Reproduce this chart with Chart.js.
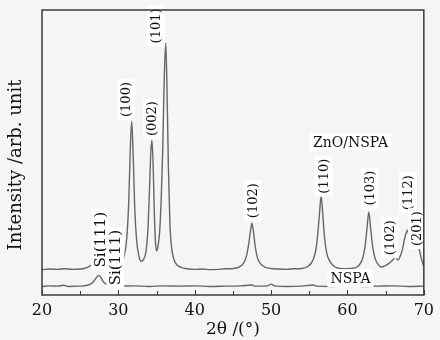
<!DOCTYPE html>
<html>
<head>
<meta charset="utf-8">
<script src="https://cdn.jsdelivr.net/npm/chart.js@4.4.0/dist/chart.umd.min.js"></script>
<style>
  html, body { margin: 0; padding: 0; background: #f5f5f5; }
  #wrap { width: 440px; height: 340px; }
</style>
</head>
<body>
<div id="wrap"><canvas id="xrd"></canvas></div>
<script>
// 2theta tick positions (labels only on the tens)
const xTicks = [20, 25, 30, 35, 40, 45, 50, 55, 60, 65, 70];

// ZnO/NSPA pattern
const znoAngle = [20, 21, 22, 23, 24, 25, 25.8, 26.3, 26.8, 27.3, 27.8, 28.3, 29, 29.6, 30.0, 30.4, 30.8, 31.1, 31.35, 31.55, 31.75, 31.95, 32.15, 32.4, 32.7, 33.0, 33.3, 33.6, 33.85, 34.05, 34.25, 34.4, 34.55, 34.7, 34.85, 35.0, 35.15, 35.4, 35.6, 35.8, 36.0, 36.2, 36.35, 36.55, 36.75, 37.0, 37.3, 37.7, 38.3, 39, 40, 41, 42, 43, 44, 45, 45.8, 46.4, 46.8, 47.1, 47.3, 47.5, 47.7, 47.9, 48.2, 48.6, 49.2, 50, 51, 52, 53, 54, 54.8, 55.4, 55.8, 56.1, 56.35, 56.55, 56.75, 57.0, 57.3, 57.7, 58.3, 59, 60, 61, 61.6, 62.0, 62.3, 62.55, 62.8, 63.05, 63.3, 63.6, 64.0, 64.4, 64.9, 65.4, 65.9, 66.3, 66.6, 66.9, 67.2, 67.5, 67.85, 68.15, 68.5, 68.8, 69.15, 69.4, 69.7, 70];
const znoCounts = [8.9, 9.1, 9.0, 9.2, 9.0, 9.1, 9.5, 10.2, 10.9, 10.3, 9.6, 9.3, 9.5, 9.9, 10.4, 11.5, 14, 20, 32, 50, 61.0, 48, 30, 19, 13.5, 11.8, 12.5, 15, 22, 35, 50, 54.3, 46, 30, 19, 15.5, 16.5, 22, 33, 50, 75, 88.4, 75, 45, 25, 16, 12.3, 10.5, 9.6, 9.2, 9.0, 9.1, 8.9, 9.0, 9.2, 9.3, 9.8, 11.2, 14, 18.5, 22.5, 25.2, 22, 17.5, 13.2, 11, 9.8, 9.3, 9.1, 9.0, 9.2, 9.3, 10, 11.8, 15, 21, 29, 34.7, 29, 20, 14.5, 11.8, 10, 9.3, 9.2, 9.5, 10.7, 13, 17, 23, 29.1, 23, 17, 13, 10.8, 9.8, 10.2, 11, 12.2, 13.2, 12.3, 13.5, 16, 20, 22.7, 19.5, 16.8, 17.5, 18.2, 16, 12.5, 10];

// bare NSPA substrate
const nspaAngle = [20, 21, 22, 22.8, 23.5, 24.5, 25.5, 26.2, 26.7, 27.1, 27.4, 27.7, 28.0, 28.4, 29, 30, 32, 34, 36, 38, 40, 42, 44, 46, 47.4, 48, 49.5, 50, 50.5, 52, 54, 55.5, 56, 58, 60, 62, 64, 66, 68, 70];
const nspaCounts = [3.0, 3.2, 3.1, 3.4, 3.0, 3.1, 3.2, 3.6, 4.6, 6.0, 6.9, 6.2, 4.8, 3.8, 3.3, 3.1, 3.2, 3.0, 3.2, 3.1, 3.2, 3.0, 3.1, 3.2, 3.5, 3.1, 3.2, 3.8, 3.2, 3.0, 3.1, 3.5, 3.1, 3.0, 3.2, 3.0, 3.1, 3.2, 3.0, 3.1];

// peak / curve labels: text, centre (2theta, intensity), vertical or not
const noteText = ['(100)', '(002)', '(101)', 'Si(111)', 'Si(111)', '(102)', '(110)', '(103)', '(102)', '(112)', '(201)', 'ZnO/NSPA', 'NSPA'];
const noteX = [31.0, 34.4, 34.9, 27.6, 29.6, 47.6, 56.9, 62.9, 65.5, 67.9, 69.1, 60.4, 60.4];
const noteY = [68.6, 61.9, 94.4, 19.4, 13.1, 33.1, 41.7, 37.5, 20.1, 35.9, 23.3, 53.7, 5.9];
const noteVertical = [true, true, true, true, true, true, true, true, true, true, true, false, false];

const serif = '"DejaVu Serif", "Liberation Serif", serif';

function pairs(xs, ys) {
    return xs.map((x, i) => ({ x: x, y: ys[i] }));
}

const framePlugin = {
    id: 'frame',
    afterDatasetsDraw(chart) {
        const { ctx, chartArea: a, scales } = chart;
        ctx.save();
        // inward ticks on the bottom axis
        ctx.strokeStyle = '#333';
        ctx.lineWidth = 1;
        xTicks.forEach(v => {
            const px = Math.round(scales.x.getPixelForValue(v)) + 0.5;
            const len = v % 10 === 0 ? 5 : 4;
            ctx.beginPath();
            ctx.moveTo(px, a.bottom);
            ctx.lineTo(px, a.bottom - len);
            ctx.stroke();
        });
        // labels with their white patches
        noteText.forEach((t, i) => {
            const px = scales.x.getPixelForValue(noteX[i]);
            const py = scales.y.getPixelForValue(noteY[i]);
            const vertical = noteVertical[i];
            let size = 13;
            if (!vertical) size = 14;
            if (t.startsWith('Si')) size = 15;
            ctx.font = size + 'px ' + serif;
            const w = ctx.measureText(t).width;
            ctx.save();
            ctx.translate(px, py);
            if (vertical) ctx.rotate(-Math.PI / 2);
            ctx.fillStyle = '#ffffff';
            ctx.fillRect(-w / 2 - 3, -9, w + 6, 18);
            ctx.fillStyle = '#111';
            ctx.textAlign = 'center';
            ctx.textBaseline = 'middle';
            ctx.fillText(t, 0, 1);
            ctx.restore();
        });
        // box around the plot
        ctx.strokeStyle = '#3a3a3a';
        ctx.lineWidth = 1.5;
        ctx.strokeRect(a.left, a.top, a.right - a.left, a.bottom - a.top);
        // y title, sits a bit lower than the axis centre in the original
        ctx.save();
        ctx.translate(16, 165);
        ctx.rotate(-Math.PI / 2);
        ctx.font = '18px ' + serif;
        ctx.fillStyle = '#111';
        ctx.textAlign = 'center';
        ctx.textBaseline = 'middle';
        ctx.fillText('Intensity /arb. unit', 0, 0);
        ctx.restore();
        ctx.restore();
    }
};

const ctx = document.getElementById('xrd');

new Chart(ctx, {
    type: 'scatter',
    data: {
        datasets: [{
            label: 'ZnO/NSPA',
            data: pairs(znoAngle, znoCounts),
            showLine: true,
            borderColor: '#666666',
            borderWidth: 1.4,
            pointRadius: 0,
            cubicInterpolationMode: 'monotone'
        },
        {
            label: 'NSPA',
            data: pairs(nspaAngle, nspaCounts),
            showLine: true,
            borderColor: '#666666',
            borderWidth: 1.4,
            pointRadius: 0,
            cubicInterpolationMode: 'monotone'
        }]
    },
    options: {
        responsive: true,
        maintainAspectRatio: false,
        animation: false,
        layout: {
            padding: { top: 10, right: 16, left: 0, bottom: 0 }
        },
        plugins: {
            legend: false,
            tooltip: { enabled: false }
        },
        scales: {
            x: {
                type: 'linear',
                min: 20,
                max: 70,
                afterBuildTicks(scale) {
                    scale.ticks = xTicks.map(v => ({ value: v }));
                },
                afterFit(scale) {
                    scale.height = 45;
                },
                grid: { display: false, drawTicks: false },
                border: { display: false },
                ticks: {
                    padding: 6,
                    color: '#111',
                    font: { family: serif, size: 16 },
                    maxRotation: 0,
                    autoSkip: false,
                    callback: v => (v % 10 === 0 ? v : '')
                },
                title: {
                    display: true,
                    text: '2θ /(°)',
                    color: '#111',
                    padding: { top: 0, bottom: 0 },
                    font: { family: serif, size: 17 }
                }
            },
            y: {
                min: 0,
                max: 100,
                afterFit(scale) {
                    scale.width = 42;
                },
                grid: { display: false },
                border: { display: false },
                ticks: { display: false },
                title: { display: false }
            }
        }
    },
    plugins: [framePlugin]
});
</script>
</body>
</html>
